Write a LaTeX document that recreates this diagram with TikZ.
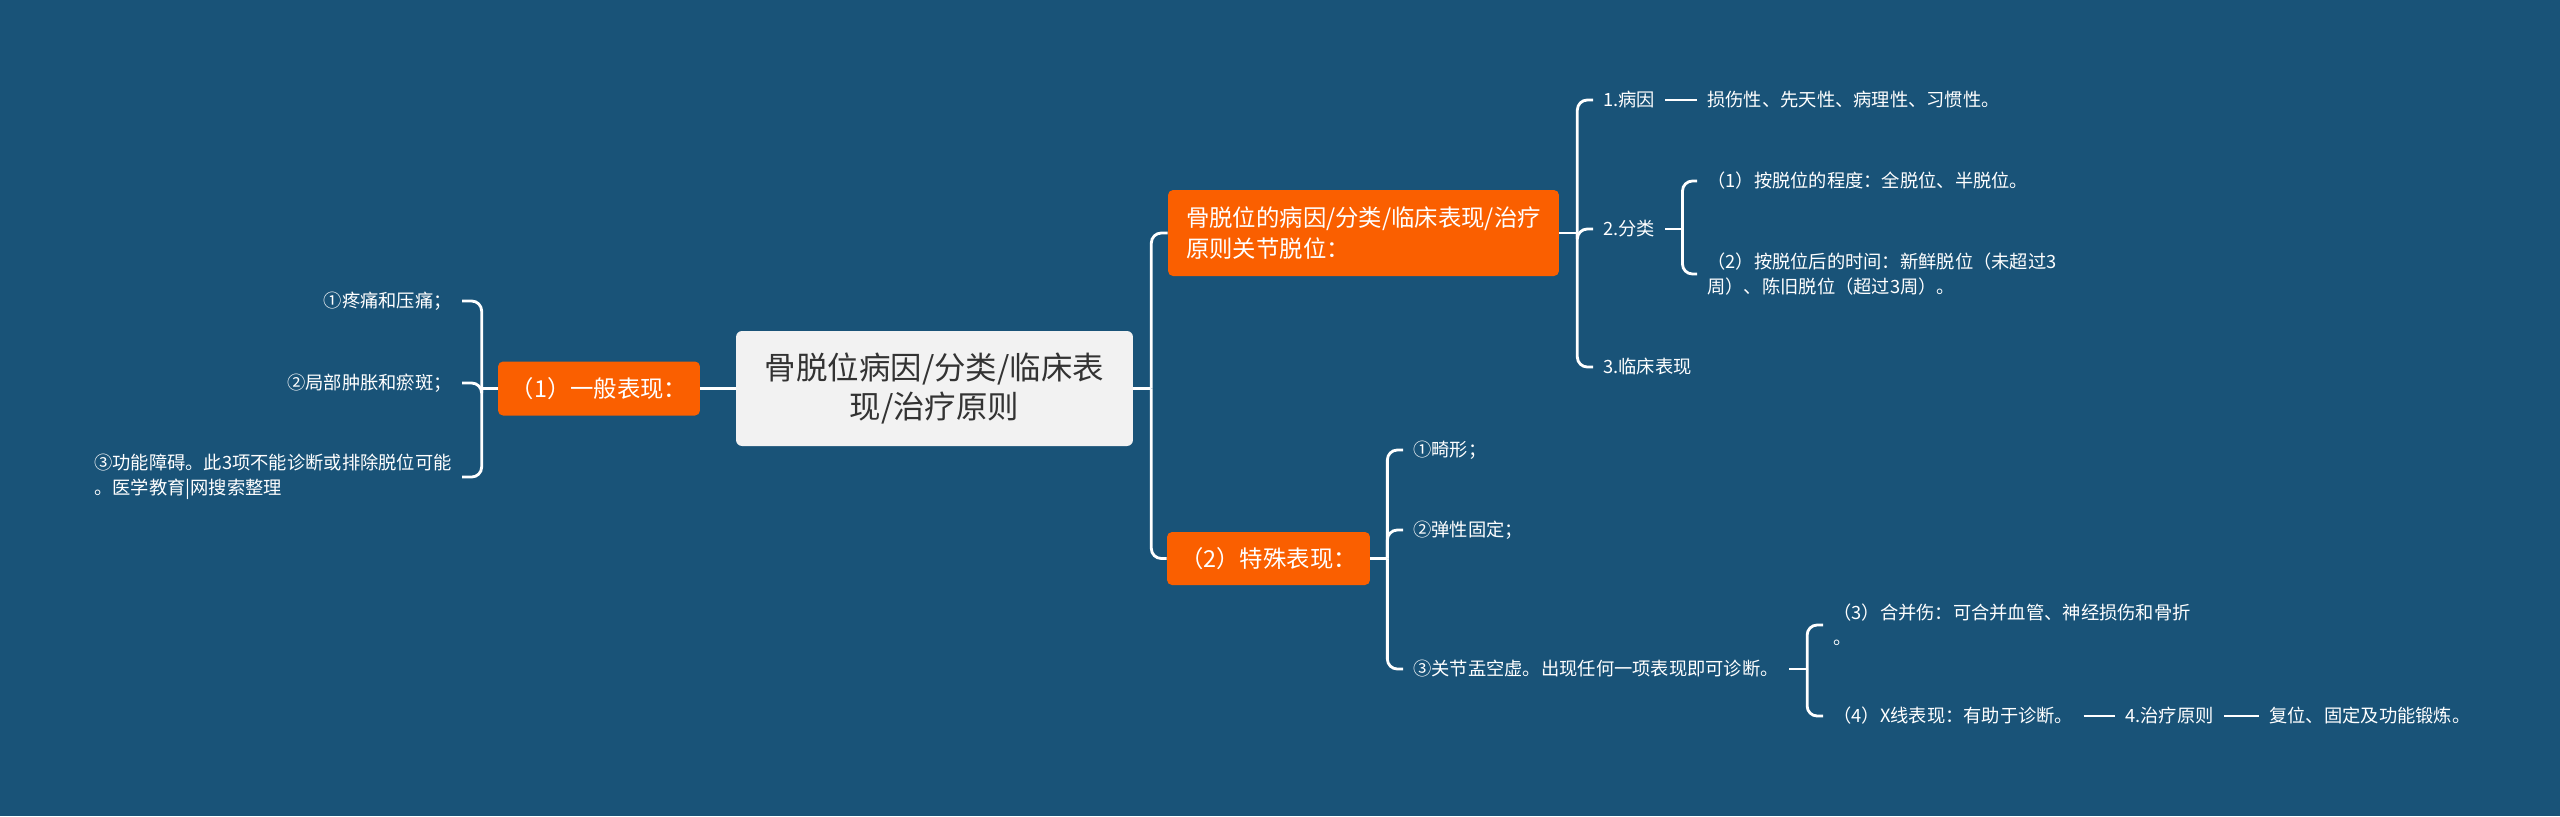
\documentclass[tikz,border=0pt]{standalone}
\usepackage{fontspec}
\newfontfamily\cjk{Noto Sans CJK SC}
\definecolor{bgblue}{RGB}{25,83,120}
\definecolor{topic}{RGB}{250,95,0}
\definecolor{rootfill}{RGB}{242,242,242}
\definecolor{roottext}{RGB}{51,51,51}
\begin{document}
\begin{tikzpicture}[x=0.02cm, y=-0.02cm,
    link/.style={draw=white, line width=1.6pt},
    elbow/.style={link, rounded corners=0.2cm},
    leaf/.style={text=white, inner xsep=0.2cm, inner ysep=0.06cm, align=left, font=\cjk\fontsize{10.4}{14.2}\selectfont},
    topicbox/.style={fill=topic, text=white, rounded corners=0.1cm, inner xsep=0.24cm, align=left, font=\cjk\fontsize{13.3}{18.1}\selectfont},
    rootbox/.style={fill=rootfill, text=roottext, rounded corners=0.12cm, align=center, minimum width=7.94cm, minimum height=2.3cm, font=\cjk\fontsize{17.9}{22.7}\selectfont}]
    % Background
    \fill[bgblue] (0,0) rectangle (2560,816);
    \useasboundingbox (0,0) rectangle (2560,816);

    % Root
    \node[rootbox] (root) at (934.5,388.5) {骨脱位病因/分类/临床表\\现/治疗原则};

    % Main topics
    \node[topicbox, minimum width=4.04cm, minimum height=1.08cm] (gen) at (599,388.5) {（1）一般表现：};
    \node[topicbox, minimum width=7.82cm, minimum height=1.72cm] (cause) at (1363.5,233) {骨脱位的病因/分类/临床表现/治疗\\原则关节脱位：};
    \node[topicbox, minimum width=4.06cm, minimum height=1.06cm] (spec) at (1268.5,558.5) {（2）特殊表现：};

    % General signs (left side)
    \node[leaf, anchor=east] (g1) at (462,301) {①疼痛和压痛；};
    \node[leaf, anchor=east] (g2) at (462,383) {②局部肿胀和瘀斑；};
    \node[leaf, anchor=east] (g3) at (462,477) {③功能障碍。此3项不能诊断或排除脱位可能\\。医学教育|网搜索整理};

    % Cause / classification
    \node[leaf, anchor=west] (c1) at (1593,100) {1.病因};
    \node[leaf, anchor=west] (c1a) at (1697,100) {损伤性、先天性、病理性、习惯性。};
    \node[leaf, anchor=west] (c2) at (1593,229) {2.分类};
    \node[leaf, anchor=west] (c2a) at (1697,181) {（1）按脱位的程度：全脱位、半脱位。};
    \node[leaf, anchor=west] (c2b) at (1697,274) {（2）按脱位后的时间：新鲜脱位（未超过3\\周）、陈旧脱位（超过3周）。};
    \node[leaf, anchor=west] (c3) at (1593,367) {3.临床表现};

    % Special signs
    \node[leaf, anchor=west] (d1) at (1403,450) {①畸形；};
    \node[leaf, anchor=west] (d2) at (1403,530) {②弹性固定；};
    \node[leaf, anchor=west] (d3) at (1403,669) {③关节盂空虚。出现任何一项表现即可诊断。};
    \node[leaf, anchor=west] (e1) at (1823,625) {（3）合并伤：可合并血管、神经损伤和骨折\\。};
    \node[leaf, anchor=west] (e2) at (1823,716) {（4）X线表现：有助于诊断。};
    \node[leaf, anchor=west] (f1) at (2115,716) {4.治疗原则};
    \node[leaf, anchor=west] (f2) at (2259,716) {复位、固定及功能锻炼。};

    % Root links
    \draw[link] (root.west) -- (gen.east);
    \draw[link] (root.east) -- ++(18,0) coordinate (rj);
    \draw[elbow] (rj) |- (cause.west);
    \draw[elbow] (rj) |- (spec.west);

    % Left bracket
    \draw[link] (gen.west) -- ++(-16,0) coordinate (gj);
    \foreach \n in {g1,g2,g3} \draw[elbow] (gj) |- (\n.east);

    % Upper bracket
    \draw[link] (cause.east) -- ++(18,0) coordinate (cj);
    \foreach \n in {c1,c2,c3} \draw[elbow] (cj) |- (\n.west);
    \draw[link] (c1.east) -- (c1a.west);
    \draw[link] (c2.east) -- ++(17,0) coordinate (c2j);
    \foreach \n in {c2a,c2b} \draw[elbow] (c2j) |- (\n.west);

    % Lower bracket
    \draw[link] (spec.east) -- ++(17,0) coordinate (sj);
    \foreach \n in {d1,d2,d3} \draw[elbow] (sj) |- (\n.west);
    \draw[link] (d3.east) -- ++(18,0) coordinate (dj);
    \foreach \n in {e1,e2} \draw[elbow] (dj) |- (\n.west);
    \draw[link] (e2.east) -- (f1.west);
    \draw[link] (f1.east) -- (f2.west);
\end{tikzpicture}
\end{document}
